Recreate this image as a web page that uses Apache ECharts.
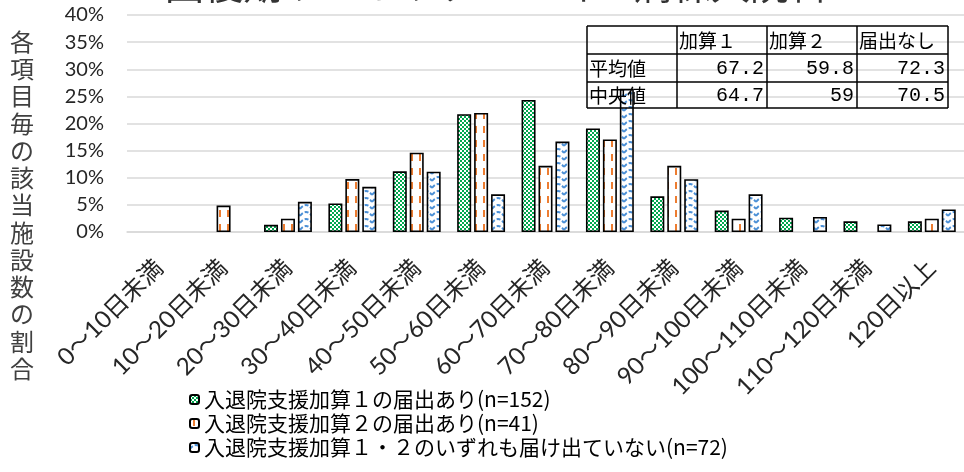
<!DOCTYPE html>
<html><head><meta charset="utf-8">
<script src="https://cdn.jsdelivr.net/npm/echarts@6/dist/echarts.min.js"></script>
<style>html,body{margin:0;padding:0;background:#fff;overflow:hidden}#c{width:964px;height:472px}</style>
</head><body><div id="c"></div>
<script>
// ---- data ----
const categories = ['0～10日未満','10～20日未満','20～30日未満','30～40日未満','40～50日未満','50～60日未満','60～70日未満','70～80日未満','80～90日未満','90～100日未満','100～110日未満','110～120日未満','120日以上'];
const seriesNames = ['入退院支援加算１の届出あり(n=152)','入退院支援加算２の届出あり(n=41)','入退院支援加算１・２のいずれも届け出ていない(n=72)'];
const kasan1 = [0,0,1.32,5.26,11.18,21.71,24.34,19.08,6.58,3.95,2.63,1.97,1.97];
const kasan2 = [0,4.88,2.44,9.76,14.63,21.95,12.20,17.07,12.20,2.44,0,0,2.44];
const nashi  = [0,0,5.56,8.33,11.11,6.94,16.67,26.39,9.72,6.94,2.78,1.39,4.17];
const yMin = 0, yMax = 40, yStep = 5;
const titleText = '回復期リハビリテーション病棟入院料';
const yAxisName = '各項目毎の該当施設数の割合';
const tableHeader = ['', '加算１', '加算２', '届出なし'];
const tableRows = [['平均値','67.2','59.8','72.3'],['中央値','64.7','59','70.5']];

// ---- patterns ----
function makeCanvas(w, h, draw){
  const c = document.createElement('canvas'); c.width = w; c.height = h;
  const ctx = c.getContext('2d'); ctx.fillStyle = '#fff'; ctx.fillRect(0,0,w,h); draw(ctx); return c;
}
const greenPat = makeCanvas(4,4,ctx=>{ctx.fillStyle='#00a84f';ctx.fillRect(0,0,2,2);ctx.fillRect(2,2,2,2);});
const orangePat = makeCanvas(8,14,ctx=>{ctx.fillStyle='#ed7d31';ctx.fillRect(3,0,2,7);});
const bluePat = makeCanvas(12,7,ctx=>{ctx.strokeStyle='#4a8fd6';ctx.lineWidth=2;ctx.setLineDash([4,2]);ctx.beginPath();ctx.moveTo(0,6);ctx.quadraticCurveTo(6,-2,12,6);ctx.stroke();});

const pats = [greenPat, orangePat, bluePat];
const values = [kasan1, kasan2, nashi];

const chart = echarts.init(document.getElementById('c'), null, {renderer:'canvas'});

const latin = 'Lato, "Noto Sans CJK JP", sans-serif';
const cjk = '"Noto Sans CJK JP", sans-serif';

// table graphic
const colX = [587, 677, 767, 857, 948];
const rowY = [26, 54, 82, 108];
const tableEls = [];
const allRows = [tableHeader].concat(tableRows);
rowY.forEach(y => tableEls.push({type:'line', shape:{x1:colX[0],y1:y,x2:colX[4],y2:y}, style:{stroke:'#000',lineWidth:1.5}, z:10}));
colX.forEach(x => tableEls.push({type:'line', shape:{x1:x,y1:rowY[0],x2:x,y2:rowY[3]}, style:{stroke:'#000',lineWidth:1.5}, z:10}));
allRows.forEach((row, ri) => {
  row.forEach((txt, ci) => {
    if (!txt) return;
    const isNum = ri > 0 && ci > 0;
    tableEls.push({type:'text', z:11,
      x: isNum ? colX[ci+1]-3 : colX[ci]+2,
      y: (rowY[ri]+rowY[ri+1])/2 + 1,
      style:{text:txt, fill:'#000', font: isNum ? '20px "Liberation Mono", monospace' : '19px "Noto Sans CJK JP"', textAlign: isNum ? 'right':'left', textVerticalAlign:'middle'}});
  });
});

const option = {
  animation: false,
  backgroundColor: '#fff',
  grid: {left:127, right:-7, top:15, bottom:240, containLabel:false},
  legend: {
    orient:'vertical', left:184, top:384, itemGap:3, itemWidth:9, itemHeight:9,
    textStyle:{fontFamily:cjk, fontSize:21, color:'#000', padding:[0,0,0,0]},
    data: seriesNames
  },
  xAxis: {
    type:'category', data: categories,
    axisLine:{lineStyle:{color:'#d9d9d9', width:1.5}},
    axisTick:{show:false},
    axisLabel:{interval:0, rotate:45, margin:32, fontSize:24, fontFamily:latin, color:'#262626'}
  },
  yAxis: {
    type:'value', min:yMin, max:yMax, interval:yStep,
    axisLabel:{formatter:'{value}%', fontSize:20, fontFamily:latin, color:'#262626', margin:23},
    splitLine:{lineStyle:{color:'#d9d9d9', width:1.5}},
    axisLine:{show:false}, axisTick:{show:false}
  },
  series: seriesNames.map((name, i) => ({
    name, type:'bar', barWidth:14, barGap:'21%',
    data: values[i].map(v => v === 0 ? '-' : v),
    itemStyle:{color:{image:pats[i], repeat:'repeat'}, borderColor:'#000', borderWidth:1.6},
    z: 5
  })),
  graphic: [
    {type:'text', left:165, top:-35, style:{text:titleText, font:'39px "Noto Sans CJK JP"', fill:'#333'}},
    {type:'text', x:22, y:28, style:{text: yAxisName.split('').join('\n'), font:'24px "Noto Sans CJK JP"', lineHeight:27.25, fill:'#404040', textAlign:'center'}},
    {type:'group', children: tableEls}
  ]
};
chart.setOption(option);
</script>
</body></html>
